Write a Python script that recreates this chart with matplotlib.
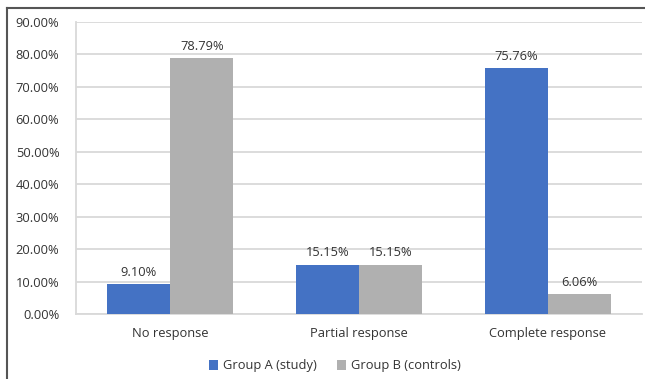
import numpy as np
import matplotlib.pyplot as plt
from matplotlib.lines import Line2D

# Data
categories = ['No response', 'Partial response', 'Complete response']
group_a = [9.10, 15.15, 75.76]
group_b = [78.79, 15.15, 6.06]
series_names = ['Group A (study)', 'Group B (controls)']
yticks = [0, 10, 20, 30, 40, 50, 60, 70, 80, 90]

plt.rcParams['font.family'] = ['Open Sans', 'DejaVu Sans']
text_col = '#333333'
fs = 9.3

fig = plt.figure(figsize=(6.45, 3.79), dpi=100)
ax = fig.add_axes([76 / 645, 1 - 314 / 379, 566 / 645, 292 / 379])

x = np.arange(len(categories))
w = 0.334
bars_a = ax.bar(x - w / 2, group_a, w, color='#4472C4', label=series_names[0], zorder=3)
bars_b = ax.bar(x + w / 2, group_b, w, color='#B0B0B0', label=series_names[1], zorder=3)

for bars in (bars_a, bars_b):
    for b in bars:
        ax.annotate(f'{b.get_height():.2f}%', (b.get_x() + b.get_width() / 2, b.get_height()),
                    xytext=(0, 4), textcoords='offset points', ha='center', va='bottom',
                    fontsize=fs, color=text_col)

ax.set_xlim(-0.5, 2.5)
ax.set_ylim(0, 90)
ax.set_yticks(yticks)
ax.set_yticklabels([f'{t:.2f}%' for t in yticks], fontsize=fs, color=text_col)
ax.set_xticks(x)
ax.set_xticklabels(categories, fontsize=fs, color=text_col)
ax.tick_params(axis='y', length=0, pad=12)
ax.tick_params(axis='x', length=0, pad=9)
ax.grid(axis='y', color='#D9D9D9', linewidth=1.3, zorder=0)
for s in ['top', 'right']:
    ax.spines[s].set_visible(False)
for s in ['left', 'bottom']:
    ax.spines[s].set_color('#D9D9D9')
    ax.spines[s].set_linewidth(1.3)

fig.legend(loc='center', bbox_to_anchor=(335 / 645, 1 - 366 / 379), ncol=2, frameon=False,
           fontsize=fs, handlelength=0.7, handleheight=0.7, handletextpad=0.4,
           columnspacing=1.5, labelcolor=text_col)

# outer frame (left and top edges)
fig.add_artist(Line2D([7 / 645, 7 / 645], [0, 1 - 8 / 379], transform=fig.transFigure,
                      color='#555555', linewidth=1.5))
fig.add_artist(Line2D([7 / 645, 1], [1 - 8 / 379, 1 - 8 / 379], transform=fig.transFigure,
                      color='#555555', linewidth=1.5))

fig.savefig('out.png', dpi=100)
